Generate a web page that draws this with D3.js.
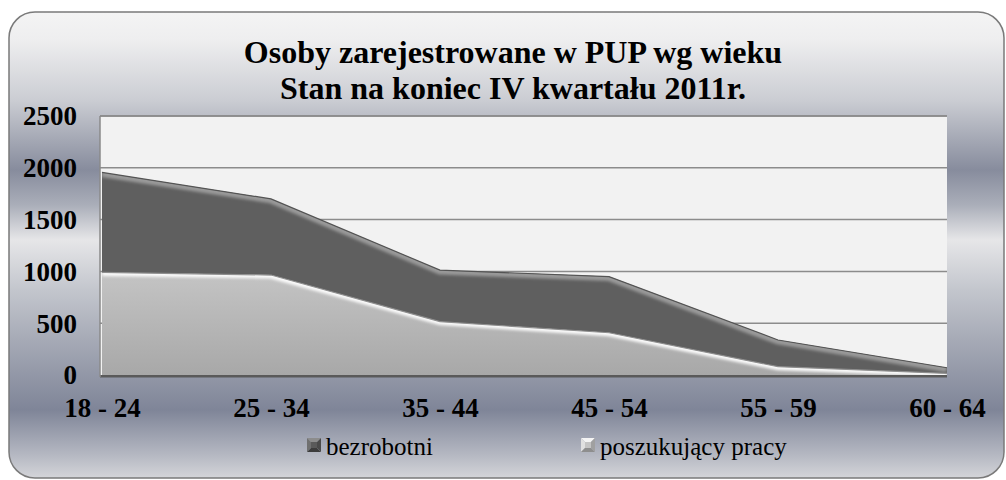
<!DOCTYPE html>
<html>
<head>
<meta charset="utf-8">
<script src="https://cdn.jsdelivr.net/npm/d3@7"></script>
<style>
  html, body { margin: 0; padding: 0; background: #ffffff; }
  svg { display: block; }
</style>
</head>
<body>
<svg id="chart" width="1006" height="480"></svg>
<script>
// ============= Data =============
const categories = ["18 - 24", "25 - 34", "35 - 44", "45 - 54", "55 - 59", "60 - 64"];
const bezrobotni = [1955, 1700, 1012, 950, 338, 70];
const poszukujacy = [990, 965, 515, 408, 80, 15];
const yTicks = [0, 500, 1000, 1500, 2000, 2500];
const titleLines = ["Osoby zarejestrowane w PUP wg wieku", "Stan na koniec IV kwartału 2011r."];
const legendLabels = ["bezrobotni", "poszukujący pracy"];

// ============= Layout =============
const PLOT = { LEFT: 100, RIGHT: 947, TOP: 116, BOTTOM: 375 };
const SERIF = '"Liberation Serif", "Times New Roman", serif';

const svg = d3.select("#chart");
const defs = svg.append("defs");

// background gradient (silver style)
const bgGrad = defs.append("linearGradient")
  .attr("id", "bg-grad")
  .attr("gradientUnits", "userSpaceOnUse")
  .attr("x1", 0).attr("y1", 12).attr("x2", 0).attr("y2", 478);
[
  [12, "#f4f4f4"], [40, "#eeeeef"], [100, "#cbcdd3"], [170, "#878c9d"],
  [205, "#aaaeb9"], [240, "#e6e6e8"], [290, "#c3c6cd"], [340, "#a6aab6"],
  [410, "#7f8598"], [455, "#b5b8c2"], [478, "#d4d5d9"],
].forEach(([y, c]) => {
  bgGrad.append("stop").attr("offset", (y - 12) / 466).attr("stop-color", c);
});

const lightGrad = defs.append("linearGradient")
  .attr("id", "light-grad").attr("x1", 0).attr("y1", 0).attr("x2", 0).attr("y2", 1);
lightGrad.append("stop").attr("offset", 0).attr("stop-color", "#c4c4c4");
lightGrad.append("stop").attr("offset", 1).attr("stop-color", "#a8a8a8");

const blur = defs.append("filter").attr("id", "soft").attr("x", "-5%").attr("y", "-20%")
  .attr("width", "110%").attr("height", "140%");
blur.append("feGaussianBlur").attr("stdDeviation", 1.6);

// chart frame
svg.append("rect")
  .attr("x", 9).attr("y", 12)
  .attr("width", 995).attr("height", 466)
  .attr("rx", 26).attr("ry", 26)
  .attr("fill", "url(#bg-grad)")
  .attr("stroke", "#7a7a7a")
  .attr("stroke-width", 1.5);

// ============= Scales =============
const xScale = d3.scalePoint().domain(categories).range([PLOT.LEFT + 2, PLOT.RIGHT]);
const yScale = d3.scaleLinear().domain([0, 2500]).range([PLOT.BOTTOM, PLOT.TOP]);

// plot area
svg.append("rect")
  .attr("x", PLOT.LEFT).attr("y", PLOT.TOP)
  .attr("width", PLOT.RIGHT - PLOT.LEFT).attr("height", PLOT.BOTTOM - PLOT.TOP)
  .attr("fill", "#f2f2f2");

// grid lines
svg.append("g")
  .selectAll("line")
  .data(yTicks.filter((d) => d > 0))
  .join("line")
  .attr("x1", PLOT.LEFT).attr("x2", PLOT.RIGHT)
  .attr("y1", (d) => yScale(d)).attr("y2", (d) => yScale(d))
  .attr("stroke", "#8c8c8c")
  .attr("stroke-width", 1.5);

// ============= Areas =============
const area = (values) => d3.area()
  .x((d, i) => xScale(categories[i]))
  .y0(yScale(0))
  .y1((d) => yScale(d))(values);

const topLine = (values) => d3.line()
  .x((d, i) => xScale(categories[i]))
  .y((d) => yScale(d))(values);

const drawSeries = (values, id, fill, edge, highlight, edgeWidth) => {
  defs.append("clipPath").attr("id", `clip-${id}`)
    .append("path").attr("d", area(values));

  const g = svg.append("g");
  g.append("path").attr("d", area(values)).attr("fill", fill);

  const inner = g.append("g").attr("clip-path", `url(#clip-${id})`);
  // inner bevel along the top edge
  inner.append("path")
    .attr("d", topLine(values))
    .attr("fill", "none")
    .attr("stroke", highlight)
    .attr("stroke-width", edgeWidth)
    .attr("filter", "url(#soft)");
  // left side bevel
  inner.append("line")
    .attr("x1", xScale(categories[0])).attr("x2", xScale(categories[0]))
    .attr("y1", yScale(values[0])).attr("y2", yScale(0))
    .attr("stroke", highlight).attr("stroke-width", 5).attr("opacity", 0.6)
    .attr("filter", "url(#soft)");
  // bottom shadow
  inner.append("line")
    .attr("x1", PLOT.LEFT).attr("x2", PLOT.RIGHT)
    .attr("y1", yScale(0) - 1).attr("y2", yScale(0) - 1)
    .attr("stroke", "#6e6e6e").attr("stroke-width", 4).attr("opacity", 0.5)
    .attr("filter", "url(#soft)");

  g.append("path")
    .attr("d", topLine(values))
    .attr("fill", "none")
    .attr("stroke", edge)
    .attr("stroke-width", 1.2);
};

drawSeries(bezrobotni, "bez", "#5f5f5f", "#545454", "#9a9a9a", 9);
drawSeries(poszukujacy, "pos", "url(#light-grad)", "#8e8e8e", "#fbfbfb", 7);

// floor and walls
svg.append("rect")
  .attr("x", PLOT.LEFT).attr("y", PLOT.BOTTOM)
  .attr("width", PLOT.RIGHT - PLOT.LEFT).attr("height", 2.5)
  .attr("fill", "#5a5a5a");
svg.append("line")
  .attr("x1", PLOT.LEFT).attr("x2", PLOT.LEFT)
  .attr("y1", PLOT.TOP).attr("y2", PLOT.BOTTOM + 2)
  .attr("stroke", "#8a8a8a").attr("stroke-width", 1.5);
svg.append("line")
  .attr("x1", PLOT.LEFT).attr("x2", PLOT.RIGHT)
  .attr("y1", PLOT.TOP).attr("y2", PLOT.TOP)
  .attr("stroke", "#8a8a8a").attr("stroke-width", 1.5);

// ============= Axes =============
const yAxis = svg.append("g")
  .attr("transform", `translate(${PLOT.LEFT - 23},0)`)
  .call(d3.axisLeft(yScale).tickValues(yTicks).tickFormat(d3.format("d")).tickSize(0).tickPadding(0))
  .attr("font-family", SERIF);
yAxis.select(".domain").remove();
yAxis.selectAll("text")
  .attr("x", 0)
  .attr("dy", "0.33em")
  .attr("font-weight", "bold")
  .attr("font-size", 27)
  .attr("fill", "#000");

const xAxis = svg.append("g")
  .attr("transform", `translate(0,${PLOT.BOTTOM})`)
  .call(d3.axisBottom(xScale).tickSize(0).tickPadding(0))
  .attr("font-family", SERIF);
xAxis.select(".domain").remove();
xAxis.selectAll("text")
  .attr("y", 42)
  .attr("dy", 0)
  .attr("font-weight", "bold")
  .attr("font-size", 27)
  .attr("fill", "#000");

// ============= Title =============
svg.append("text")
  .attr("x", 513)
  .attr("text-anchor", "middle")
  .attr("font-family", SERIF)
  .attr("font-weight", "bold")
  .attr("font-size", 32)
  .attr("fill", "#000")
  .selectAll("tspan")
  .data(titleLines)
  .join("tspan")
  .attr("x", 513)
  .attr("y", (d, i) => 63 + i * 36)
  .text((d) => d);

// ============= Legend =============
// beveled square markers, like the Office legend keys
const legendX = [307, 581];
const legendShades = [
  ["#8c8c8c", "#707070", "#3c3c3c", "#4a4a4a", "#5a5a5a"],
  ["#f4f4f4", "#e0e0e0", "#8e8e8e", "#a0a0a0", "#c4c4c4"],
];
const S = 14;
const bevel = [
  `M0,0 L${S},0 L${S - 4},4 L4,4 Z`,
  `M0,0 L4,4 L4,${S - 4} L0,${S} Z`,
  `M0,${S} L4,${S - 4} L${S - 4},${S - 4} L${S},${S} Z`,
  `M${S},0 L${S},${S} L${S - 4},${S - 4} L${S - 4},4 Z`,
  `M4,4 L${S - 4},4 L${S - 4},${S - 4} L4,${S - 4} Z`,
];
const legend = svg.append("g")
  .selectAll("g")
  .data(legendLabels)
  .join("g")
  .attr("transform", (d, i) => `translate(${legendX[i]},438)`);
legend.each(function (d, i) {
  d3.select(this).selectAll("path")
    .data(bevel)
    .join("path")
    .attr("d", (p) => p)
    .attr("fill", (p, j) => legendShades[i][j]);
});
legend.append("text")
  .attr("x", 19)
  .attr("y", 17)
  .attr("font-family", SERIF)
  .attr("font-size", 25)
  .attr("fill", "#000")
  .text((d) => d);
</script>
</body>
</html>
